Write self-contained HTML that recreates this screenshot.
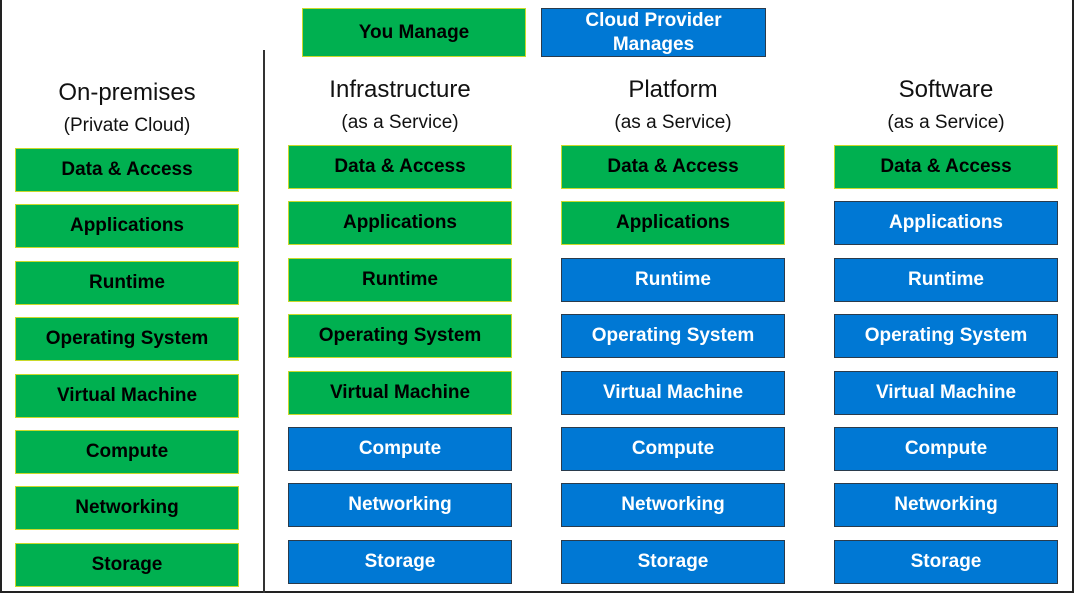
<!DOCTYPE html><html><head><style>
body{margin:0;width:1074px;height:595px;background:#fff;position:relative;overflow:hidden;font-family:"Liberation Sans",sans-serif}
.b{position:absolute;width:222px;height:42px;display:flex;align-items:center;justify-content:center;font-weight:bold;font-size:19px;box-sizing:content-box}
.g{background:#00b050;border:1px solid #c9d92a;color:#000}
.u{background:#0078d4;border:1px solid #2a3b4c;color:#fff}
.t{position:absolute;width:260px;text-align:center;color:#111}
.t1{font-size:24px}.t2{font-size:19px}
</style></head><body>
<div style="position:absolute;left:0;top:0;width:1070px;height:591px;border:2px solid #222;border-top:none"></div>
<div style="position:absolute;left:263px;top:50px;width:2px;height:543px;background:#333"></div>
<div class="b g" style="left:302px;top:8px;height:47px;width:222px">You Manage</div>
<div class="b u" style="left:541px;top:8px;height:47px;width:223px;line-height:24px;text-align:center">Cloud Provider<br>Manages</div>
<div class="t t1" style="left:-3px;top:79px">On-premises</div>
<div class="t t2" style="left:-3px;top:115px">(Private Cloud)</div>
<div class="t t1" style="left:270px;top:76px">Infrastructure</div>
<div class="t t2" style="left:270px;top:112px">(as a Service)</div>
<div class="t t1" style="left:543px;top:76px">Platform</div>
<div class="t t2" style="left:543px;top:112px">(as a Service)</div>
<div class="t t1" style="left:816px;top:76px">Software</div>
<div class="t t2" style="left:816px;top:112px">(as a Service)</div>
<div id="c"></div>
<script>
var L=["Data &amp; Access","Applications","Runtime","Operating System","Virtual Machine","Compute","Networking","Storage"];
var cols=[[15,148,8],[288,145,5],[561,145,2],[834,145,1]];var h="";
cols.forEach(function(c){for(var i=0;i<8;i++){h+='<div class="b '+(i<c[2]?'g':'u')+'" style="left:'+c[0]+'px;top:'+(c[1]+i*56.4)+'px">'+L[i]+'</div>';}});
document.getElementById("c").innerHTML=h;
</script>
</body></html>
